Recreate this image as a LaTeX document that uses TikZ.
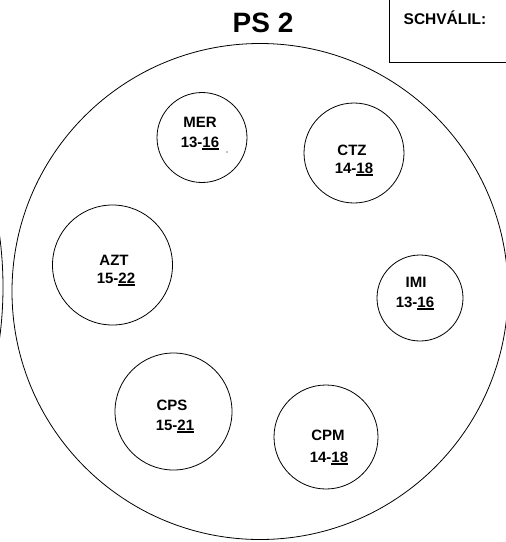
\documentclass[tikz,border=0pt]{standalone}
\usepackage{fontspec}
\setmainfont{Liberation Sans}
\newcommand\ulx[1]{\setbox0\hbox{#1}\rlap{\rule[-2.6pt]{\wd0}{1.5pt}}\box0}
\begin{document}
\begin{tikzpicture}[x=1pt,y=-1pt,
  ring/.style={circle,draw,line width=0.8pt,inner sep=0pt},
  lbl/.style={font=\fontsize{15}{17}\selectfont\bfseries,anchor=base,inner sep=0pt}]
\useasboundingbox (0,0) rectangle (506,542);
\clip (0,0) rectangle (506,542);
\node[ring,minimum size=496pt] (big) at (260,291.5) {};
\node[ring,minimum size=766pt] (leftarc) at (-380,287) {};
\node[draw,line width=0.8pt,anchor=north west,minimum width=140pt,minimum height=72pt,inner sep=0pt] (box) at (389,-10) {};
\node[font=\fontsize{28}{30}\selectfont\bfseries,anchor=base,inner sep=0pt] (title) at (263,32) {PS 2};
\node[font=\fontsize{15.5}{17}\selectfont\bfseries,anchor=base,inner sep=0pt] (schv) at (445,24) {SCHVÁLIL:};
% MER
\node[ring,minimum size=90pt] (mer) at (202,137.5) {};
\node[lbl] (mer1) at (200,127) {MER};
\node[lbl] (mer2) at (200,147) {13-\ulx{16}};
\fill (227,152) circle[radius=0.7pt];
% CTZ
\node[ring,minimum size=100pt] (ctz) at (354,153) {};
\node[lbl] (ctz1) at (352,155) {CTZ};
\node[lbl] (ctz2) at (354,173) {14-\ulx{18}};
% AZT
\node[ring,minimum size=120pt] (azt) at (112.5,265) {};
\node[lbl] (azt1) at (114,265) {AZT};
\node[lbl] (azt2) at (116,283) {15-\ulx{22}};
% IMI
\node[ring,minimum size=86pt] (imi) at (420,298) {};
\node[lbl] (imi1) at (416,287) {IMI};
\node[lbl] (imi2) at (415,307) {13-\ulx{16}};
% CPS
\node[ring,minimum size=117pt] (cps) at (173.5,411.5) {};
\node[lbl] (cps1) at (172,410) {CPS};
\node[lbl] (cps2) at (175,430) {15-\ulx{21}};
% CPM
\node[ring,minimum size=104pt] (cpm) at (326,437) {};
\node[lbl] (cpm1) at (328,440) {CPM};
\node[lbl] (cpm2) at (329,462) {14-\ulx{18}};
\end{tikzpicture}
\end{document}
